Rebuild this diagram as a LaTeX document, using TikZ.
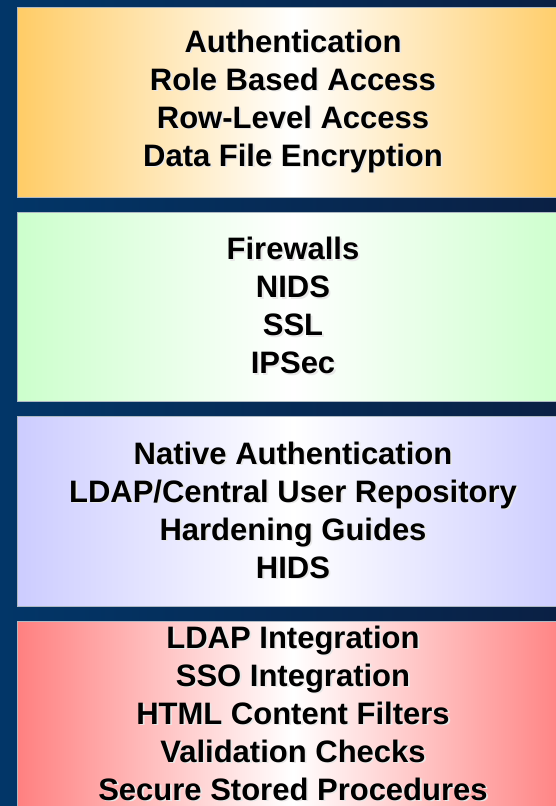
\documentclass[tikz,border=0pt]{standalone}
\usepackage{fontspec}
\setmainfont{Liberation Sans}
\usepackage{xcolor}
\usetikzlibrary{positioning}
\definecolor{navyleft}{RGB}{2,54,104}
\definecolor{navyright}{RGB}{10,32,68}
\definecolor{dbfill}{RGB}{255,204,102}
\definecolor{netfill}{RGB}{204,255,204}
\definecolor{osfill}{RGB}{204,204,255}
\definecolor{appfill}{RGB}{255,128,128}
\definecolor{edgegray}{RGB}{175,185,195}
\definecolor{shadegray}{RGB}{232,232,232}
% bold line with a light drop shadow behind it
\newcommand{\shline}[1]{\makebox[0pt][l]{\hspace{1.8pt}\raisebox{-1.8pt}{\color{shadegray}#1}}#1}
\tikzset{
  layer/.style={rectangle, draw=edgegray, line width=1pt, inner sep=0pt,
    minimum width=552pt, minimum height=190pt, align=center,
    font=\fontsize{31}{38}\selectfont\bfseries, text=black},
  dblayer/.style={layer, left color=dbfill, right color=dbfill, middle color=white},
  netlayer/.style={layer, left color=netfill, right color=netfill, middle color=white},
  oslayer/.style={layer, left color=osfill, right color=osfill, middle color=white},
  applayer/.style={layer, left color=appfill, right color=appfill, middle color=white}
}
\begin{document}
\begin{tikzpicture}[x=1pt, y=-1pt]
  \useasboundingbox (0,0) rectangle (556,806);
  \clip (0,0) rectangle (556,806);
  % backdrop
  \fill[left color=navyleft, right color=navyright] (0,0) rectangle (556,806);

  % security layers, top to bottom
  \node[dblayer] (db) at (293,102)
    {\shline{Authentication}\\\shline{Role Based Access}\\\shline{Row-Level Access}\\\shline{Data File Encryption}};
  \node[netlayer, minimum height=189pt, below=14pt of db] (net)
    {\shline{Firewalls}\\\shline{NIDS}\\\shline{SSL}\\\shline{IPSec}};
  \node[oslayer, below=14pt of net] (os)
    {\shline{Native Authentication}\\\shline{LDAP/Central User Repository}\\\shline{Hardening Guides}\\\shline{HIDS}};
  \node[applayer, minimum height=186pt, below=14pt of os] (app)
    {\shline{LDAP Integration}\\\shline{SSO Integration}\\\shline{HTML Content Filters}\\\shline{Validation Checks}\\\shline{Secure Stored Procedures}};
\end{tikzpicture}
\end{document}
